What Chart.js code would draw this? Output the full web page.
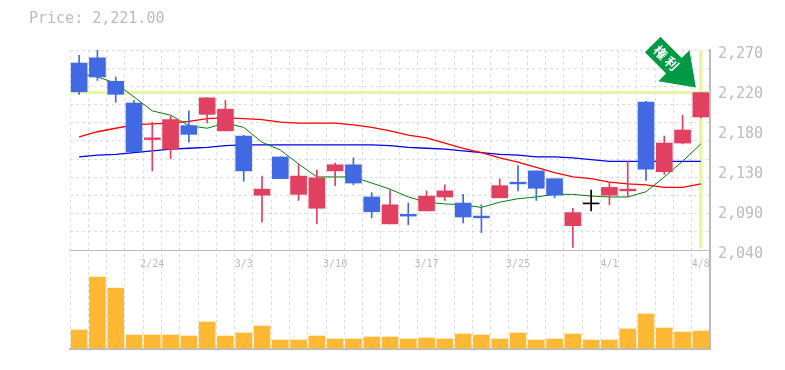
<!DOCTYPE html>
<html>
<head>
<meta charset="utf-8">
<style>
body { margin: 0; background: #fff; }
#wrap { position: relative; width: 785px; height: 370px; }
#precio { position: absolute; left: 29px; top: 9px; font: 15px "DejaVu Sans Mono", monospace; color: #bbb; white-space: pre; }
</style>
<script src="https://cdn.jsdelivr.net/npm/chart.js@4"></script>
</head>
<body>
<div id="wrap">
  <div id="precio">Price: 2,221.00</div>
  <canvas id="grafico" width="785" height="370"></canvas>
</div>
<script>
// fechas de sesion, solo algunas llevan etiqueta
const fechas = ['2/19','2/20','2/21','2/22','2/24','2/25','2/26','2/27','2/28',
  '3/3','3/4','3/5','3/6','3/7','3/10','3/11','3/12','3/13','3/14',
  '3/17','3/18','3/19','3/21','3/24','3/25','3/26','3/27','3/28','3/31',
  '4/1','4/2','4/3','4/4','4/7','4/8'];
const etiquetasX = ['2/24','3/3','3/10','3/17','3/25','4/1','4/8'];

const aperturas = [2255,2261,2234,2209,2167,2156,2183,2196,2177,2171,2103,2147,2104,2088,2131,2138,2101,2070,2081,2085,2101,2094,2079,2100,2118,2131,2122,2068,2093,2103,2108,2210,2130,2163,2193];
const maximos  = [2264,2270,2239,2212,2187,2194,2200,2215,2212,2172,2125,2147,2139,2132,2140,2146,2106,2109,2094,2108,2115,2104,2092,2122,2137,2131,2122,2088,2109,2117,2142,2211,2171,2195,2221];
const minimos  = [2219,2235,2210,2153,2131,2145,2164,2186,2177,2119,2072,2122,2097,2070,2114,2115,2077,2070,2069,2085,2097,2071,2060,2100,2108,2097,2100,2043,2085,2092,2101,2120,2127,2162,2192];
const cierres  = [2222,2239,2219,2153,2169,2190,2173,2215,2202,2131,2110,2122,2125,2123,2138,2117,2084,2092,2079,2102,2108,2078,2077,2114,2116,2111,2103,2083,2093,2112,2110,2133,2163,2178,2221];

const mediaCorta = [2243,2239,2232,2216,2200,2195,2183,2180,2186,2181,2164,2155,2139,2124,2124,2124,2117,2110,2101,2095,2093,2092,2089,2095,2099,2101,2104,2104,2102,2101,2101,2107,2124,2142,2162];
const mediaMedia = [2170,2176,2180,2184,2185,2186,2188,2191,2192,2191,2190,2187,2186,2186,2186,2184,2181,2177,2172,2169,2163,2157,2152,2146,2141,2135,2129,2124,2122,2118,2116,2115,2112,2112,2116];
const mediaLarga = [2147,2149,2150,2152,2154,2156,2157,2158,2160,2161,2161,2161,2161,2161,2161,2161,2161,2160,2158,2157,2156,2154,2152,2150,2149,2147,2147,2146,2144,2142,2142,2142,2142,2142,2142];

const volumen = [18,71,60,13,13,13,12,26,12,15,22,8,8,12,9,9,11,11,9,10,9,14,13,9,15,8,9,14,8,8,19,34,20,16,17];

const valoresPrecio = [2270,2224,2178,2132,2086,2040];
const etiquetasPrecio = ['2,270','2,220','2,180','2,130','2,090','2,040'];
const ultimoPrecio = 2221;

const AZUL = '#4169e1', ROJO = '#e24060', NEGRO = '#000000';
const colorVela = fechas.map((f, i) => cierres[i] > aperturas[i] ? ROJO : cierres[i] < aperturas[i] ? AZUL : NEGRO);

// lineas de la cuadricula horizontal del panel de precios
const lineasPrecio = [];
for (let i = 0; i <= 11; i++) lineasPrecio.push(2270 - i * 230 / 11);

// resalta el ultimo precio y dibuja la flecha verde
const resaltado = {
  id: 'resaltado',
  beforeDatasetsDraw(chart) {
    const { ctx, chartArea, scales } = chart;
    const py = scales.y.getPixelForValue(ultimoPrecio);
    ctx.save();
    ctx.strokeStyle = '#e6f5aa';
    ctx.lineWidth = 3;
    ctx.beginPath();
    ctx.moveTo(chartArea.left, py);
    ctx.lineTo(chartArea.right, py);
    ctx.stroke();
    ctx.restore();
  },
  afterDatasetsDraw(chart) {
    const { ctx, scales } = chart;
    const px = scales.x.getPixelForValue(34);
    const py = scales.y.getPixelForValue(ultimoPrecio);
    ctx.save();
    ctx.translate(px - 5, py - 5);
    ctx.rotate(Math.PI / 4);
    ctx.fillStyle = '#009944';
    ctx.beginPath();
    ctx.moveTo(0, 0);
    ctx.lineTo(-31, -22);
    ctx.lineTo(-31, -11);
    ctx.lineTo(-61, -11);
    ctx.lineTo(-61, 11);
    ctx.lineTo(-31, 11);
    ctx.lineTo(-31, 22);
    ctx.closePath();
    ctx.fill();
    ctx.fillStyle = '#fff';
    ctx.font = 'bold 13px "Noto Sans CJK JP"';
    ctx.textAlign = 'center';
    ctx.textBaseline = 'middle';
    ctx.fillText('権', -50, 0);
    ctx.fillText('利', -34, 0);
    ctx.restore();
  }
};

new Chart(document.getElementById('grafico'), {
  data: {
    labels: fechas,
    datasets: [
      { type: 'line', data: mediaCorta, borderColor: '#008000', borderWidth: 1, pointRadius: 0, yAxisID: 'y', order: 3 },
      { type: 'line', data: mediaMedia, borderColor: '#ff0000', borderWidth: 1.3, pointRadius: 0, yAxisID: 'y', order: 4 },
      { type: 'line', data: mediaLarga, borderColor: '#0000ee', borderWidth: 1.3, pointRadius: 0, yAxisID: 'y', order: 5 },
      // barra vertical de la ultima sesion
      { type: 'bar', data: fechas.map((f, i) => i === fechas.length - 1 ? [2042, 2270] : null), backgroundColor: '#e6f5aa', barThickness: 3, grouped: false, yAxisID: 'y', order: 6 },
      { type: 'bar', data: minimos.map((m, i) => [m, maximos[i]]), backgroundColor: colorVela, barThickness: 1, grouped: false, yAxisID: 'y', order: 2 },
      { type: 'bar', data: aperturas.map((a, i) => [a, cierres[i]]), backgroundColor: colorVela, barThickness: 16, minBarLength: 1, grouped: false, yAxisID: 'y', order: 1 },
      { type: 'bar', data: volumen, backgroundColor: '#ffb833', barThickness: 16, grouped: false, yAxisID: 'yVol', order: 7 }
    ]
  },
  options: {
    responsive: false,
    animation: false,
    layout: { padding: { left: 70, top: 50, right: 0, bottom: 21 } },
    plugins: { legend: { display: false }, tooltip: { enabled: false } },
    scales: {
      x: {
        position: { y: 2040 },
        offset: true,
        grid: { offset: true, color: '#dddddd', drawTicks: false },
        border: { dash: [3, 3], color: '#bbbbbb', width: 1 },
        ticks: {
          autoSkip: false,
          maxRotation: 0,
          padding: 8,
          color: '#bbbbbb',
          font: { family: 'DejaVu Sans Mono', size: 10 },
          callback(v) { const e = this.getLabelForValue(v); return etiquetasX.includes(e) ? e : ''; }
        }
      },
      xBase: {
        axis: 'x',
        type: 'category',
        position: 'bottom',
        afterFit(s) { s.height = 0; },
        grid: { display: false },
        ticks: { display: false },
        border: { color: '#bbbbbb', width: 2 }
      },
      y: {
        position: 'right',
        min: 1926.15,
        max: 2270,
        afterBuildTicks(s) { s.ticks = lineasPrecio.map(v => ({ value: v })); },
        grid: { color: '#dddddd', drawTicks: false },
        border: { dash: [3, 3], display: false },
        ticks: { display: false }
      },
      yEtiquetas: {
        position: 'right',
        min: 1926.15,
        max: 2270,
        afterBuildTicks(s) { s.ticks = valoresPrecio.map(v => ({ value: v })); },
        afterFit(s) { s.width = 75; },
        grid: { display: false, drawTicks: false },
        border: { color: '#bbbbbb', width: 2 },
        ticks: {
          padding: 8,
          labelOffset: 4,
          color: '#bbbbbb',
          font: { family: 'DejaVu Sans Mono', size: 15 },
          callback(v) { return etiquetasPrecio[valoresPrecio.indexOf(v)]; }
        }
      },
      yVol: { display: false, min: -1, max: 298 }
    }
  },
  plugins: [resaltado]
});
</script>
</body>
</html>
